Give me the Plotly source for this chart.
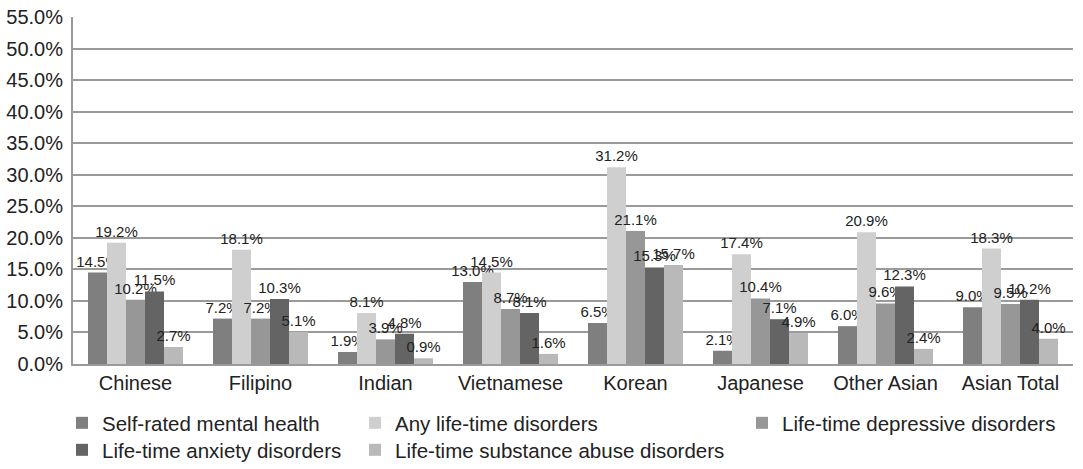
import plotly.graph_objects as go

# Ethnic groups on the x axis
groups = ["Chinese", "Filipino", "Indian", "Vietnamese", "Korean",
          "Japanese", "Other Asian", "Asian Total"]

# Prevalence (%) per measure
self_rated = [14.5, 7.2, 1.9, 13.0, 6.5, 2.1, 6.0, 9.0]
any_disorder = [19.2, 18.1, 8.1, 14.5, 31.2, 17.4, 20.9, 18.3]
depressive = [10.2, 7.2, 3.9, 8.7, 21.1, 10.4, 9.6, 9.5]
anxiety = [11.5, 10.3, 4.8, 8.1, 15.3, 7.1, 12.3, 10.2]
substance = [2.7, 5.1, 0.9, 1.6, 15.7, 4.9, 2.4, 4.0]

# y-axis ticks
y_ticks = [0, 5, 10, 15, 20, 25, 30, 35, 40, 45, 50, 55]

FONT = "Liberation Sans, Arial, sans-serif"
TEXT = "#222222"

series = [
    ("Self-rated mental health", self_rated, "#7f7f7f"),
    ("Any life-time disorders", any_disorder, "#cfcfcf"),
    ("Life-time depressive disorders", depressive, "#979797"),
    ("Life-time anxiety disorders", anxiety, "#646464"),
    ("Life-time substance abuse disorders", substance, "#b9b9b9"),
]

# one single-entry legend per series, laid out as a 3-column grid (pixels)
legend_names = ["legend", "legend2", "legend3", "legend4", "legend5"]
legend_left = [62, 355, 742, 62, 355]
legend_top = [403, 403, 403, 430, 430]

fig = go.Figure()
for (name, vals, color), leg in zip(series, legend_names):
    fig.add_trace(go.Bar(
        x=groups, y=vals, name=name, legend=leg,
        marker=dict(color=color, line=dict(width=0)),
        text=vals, texttemplate="%{y:.1f}%",
        textposition="outside", constraintext="none", cliponaxis=False,
        textfont=dict(family=FONT, size=15, color=TEXT),
    ))

W, H = 1083, 469
legends = {}
for leg, lx, ly in zip(legend_names, legend_left, legend_top):
    legends[leg] = dict(
        orientation="v", xref="container", yref="container",
        x=lx / W, y=1 - ly / H, xanchor="left", yanchor="top",
        bgcolor="rgba(0,0,0,0)",
        font=dict(family=FONT, size=20.5, color=TEXT),
    )

fig.update_layout(
    width=W, height=H,
    margin=dict(l=73, r=10, t=17, b=105, autoexpand=False),
    paper_bgcolor="white", plot_bgcolor="white",
    barmode="group", bargap=0.24, bargroupgap=0,
    font=dict(family=FONT, size=20, color=TEXT),
    showlegend=True,
    xaxis=dict(
        showline=True, linecolor="#9a9a9a", linewidth=2,
        showgrid=False, ticks="", tickfont=dict(family=FONT, size=20, color=TEXT),
    ),
    yaxis=dict(
        range=[0, 55], tickvals=y_ticks,
        ticktext=[f"{v:.1f}%" for v in y_ticks],
        showline=True, linecolor="#9a9a9a", linewidth=2,
        showgrid=True, gridcolor="#9a9a9a", gridwidth=1.5,
        zeroline=False, ticks="", ticklabelstandoff=4,
        tickfont=dict(family=FONT, size=20, color=TEXT),
    ),
    **legends,
)

fig.write_html("out.html")
